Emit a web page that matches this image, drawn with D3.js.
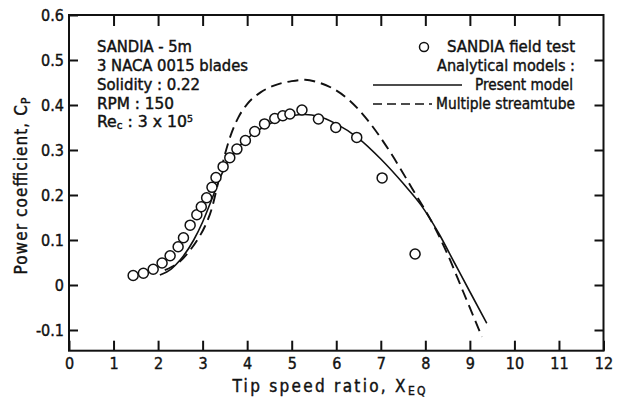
<!DOCTYPE html>
<html>
<head>
<meta charset="utf-8">
<script src="https://cdn.jsdelivr.net/npm/d3@7"></script>
<style>
  html, body { margin: 0; padding: 0; background: #fff; }
  svg { display: block; }
  text { font-family: "DejaVu Sans Condensed", "Liberation Sans Narrow", "DejaVu Sans", sans-serif; fill: #111; stroke: #111; stroke-width: 0.4px; }
</style>
</head>
<body>
<svg id="chart" width="619" height="400"></svg>
<script>
// ---------- data ----------
const fieldTestX = [1.44, 1.67, 1.89, 2.09, 2.27, 2.45, 2.57, 2.72, 2.87, 2.97, 3.09, 3.21, 3.30, 3.46, 3.61, 3.77, 3.96, 4.17, 4.39, 4.62, 4.80, 4.96, 5.23, 5.60, 5.99, 6.46, 7.03, 7.77];
const fieldTestY = [0.021, 0.026, 0.035, 0.049, 0.065, 0.085, 0.105, 0.133, 0.156, 0.174, 0.194, 0.217, 0.239, 0.263, 0.283, 0.302, 0.321, 0.341, 0.358, 0.370, 0.376, 0.380, 0.389, 0.369, 0.350, 0.328, 0.238, 0.069];

const presentX = [2.04, 2.3, 2.5, 2.8, 3.0, 3.2, 3.4, 3.6, 3.8, 4.0, 4.3, 4.6, 5.0, 5.3, 5.6, 6.0, 6.5, 7.0, 7.5, 7.9, 8.3, 8.65, 9.0, 9.38];
const presentY = [0.022, 0.036, 0.056, 0.100, 0.140, 0.189, 0.240, 0.280, 0.306, 0.325, 0.347, 0.363, 0.376, 0.379, 0.375, 0.358, 0.326, 0.280, 0.226, 0.178, 0.115, 0.050, -0.015, -0.085];

const streamX = [2.15, 2.3, 2.5, 2.7, 2.9, 3.05, 3.2, 3.35, 3.5, 3.65, 3.8, 4.0, 4.3, 4.6, 5.0, 5.3, 5.6, 5.9, 6.3, 6.7, 7.2, 7.7, 8.2, 8.5, 8.85, 9.27];
const streamY = [0.033, 0.040, 0.053, 0.075, 0.103, 0.130, 0.168, 0.228, 0.290, 0.338, 0.372, 0.402, 0.428, 0.443, 0.453, 0.456, 0.450, 0.438, 0.410, 0.367, 0.297, 0.215, 0.130, 0.068, -0.015, -0.115];

const xTickValues = [0, 1, 2, 3, 4, 5, 6, 7, 8, 9, 10, 11, 12];
const yTickValues = [-0.1, 0, 0.1, 0.2, 0.3, 0.4, 0.5, 0.6];
const yTickLabels = ["-0.1", "0", "0.1", "0.2", "0.3", "0.4", "0.5", "0.6"];

const infoLines = ["SANDIA - 5m", "3 NACA 0015 blades", "Solidity : 0.22", "RPM : 150"];

// ---------- layout ----------
const svg = d3.select("#chart");
const x = d3.scaleLinear().domain([0, 12]).range([69, 603.5]);
const y = d3.scaleLinear().domain([-0.146, 0.6]).range([350.7, 15]);

const ink = "#111";
const fam = '"DejaVu Sans Condensed", "Liberation Sans Narrow", sans-serif';

// axes
const gL = svg.append("g").attr("transform", `translate(${x(0)},0)`)
  .call(d3.axisLeft(y).tickValues(yTickValues).tickSize(-9).tickPadding(5)
        .tickFormat((d, i) => yTickLabels[i]));
const gB = svg.append("g").attr("transform", `translate(0,${y(-0.146)})`)
  .call(d3.axisBottom(x).tickValues(xTickValues).tickSize(-10).tickPadding(7)
        .tickFormat(d3.format("d")));
const gT = svg.append("g").attr("transform", `translate(0,${y(0.6)})`)
  .call(d3.axisTop(x).tickValues(xTickValues.slice(1, -1)).tickSize(-11).tickFormat(""));
const gR = svg.append("g").attr("transform", `translate(${x(12)},0)`)
  .call(d3.axisRight(y).tickValues(yTickValues.slice(0, -1)).tickSize(-9).tickFormat(""));

[gL, gB, gT, gR].forEach(g => {
  g.select(".domain").remove();
  g.selectAll(".tick line").attr("stroke", ink).attr("stroke-width", 2);
  g.selectAll(".tick text").attr("fill", ink).attr("font-size", 16)
    .attr("font-family", fam);
});

// frame
svg.append("rect")
  .attr("x", x(0)).attr("y", y(0.6))
  .attr("width", x(12) - x(0)).attr("height", y(-0.146) - y(0.6))
  .attr("fill", "none").attr("stroke", ink).attr("stroke-width", 2);

// curves
const line = (xs, ys) => d3.line()
  .x((d, i) => x(xs[i])).y((d, i) => y(ys[i]))
  .curve(d3.curveMonotoneX)(xs);

svg.append("path").attr("d", line(streamX, streamY))
  .attr("fill", "none").attr("stroke", ink).attr("stroke-width", 1.9)
  .attr("stroke-dasharray", "11,6");
svg.append("path").attr("d", line(presentX, presentY))
  .attr("fill", "none").attr("stroke", ink).attr("stroke-width", 1.6);

// field test circles
svg.append("g").selectAll("circle").data(fieldTestX).join("circle")
  .attr("cx", d => x(d)).attr("cy", (d, i) => y(fieldTestY[i]))
  .attr("r", 5).attr("fill", "#fff").attr("stroke", ink).attr("stroke-width", 1.5);

// info block
const info = svg.append("g").attr("font-size", 15);
const infoBase = [52, 71, 90, 109];
const infoLen = [95, 151, 103, 77];
infoLines.forEach((t, i) => {
  info.append("text").attr("x", 97).attr("y", infoBase[i]).text(t)
    .attr("textLength", infoLen[i]).attr("lengthAdjust", "spacingAndGlyphs");
});
const rec = info.append("text").attr("x", 97).attr("y", 127);
rec.append("tspan").text("Re");
rec.append("tspan").attr("font-size", 10).attr("dy", 2).text("c");
rec.append("tspan").attr("dy", -2).text(" : 3 x 10");
rec.append("tspan").attr("font-size", 9).attr("dy", -5).text("5");
rec.attr("textLength", 96).attr("lengthAdjust", "spacingAndGlyphs");

// legend
const leg = svg.append("g").attr("font-size", 16).attr("text-anchor", "end");
leg.append("circle").attr("cx", 424).attr("cy", 47).attr("r", 4.5)
  .attr("fill", "#fff").attr("stroke", ink).attr("stroke-width", 1.5);
leg.append("text").attr("x", 575).attr("y", 52).text("SANDIA field test")
  .attr("textLength", 128).attr("lengthAdjust", "spacingAndGlyphs");
leg.append("text").attr("x", 575).attr("y", 71).text("Analytical models :")
  .attr("textLength", 138).attr("lengthAdjust", "spacingAndGlyphs");
leg.append("line").attr("x1", 373).attr("x2", 462).attr("y1", 85).attr("y2", 85)
  .attr("stroke", ink).attr("stroke-width", 1.6);
leg.append("text").attr("x", 573).attr("y", 90).text("Present model")
  .attr("textLength", 98).attr("lengthAdjust", "spacingAndGlyphs");
leg.append("line").attr("x1", 373).attr("x2", 432).attr("y1", 104).attr("y2", 104)
  .attr("stroke", ink).attr("stroke-width", 1.6).attr("stroke-dasharray", "9,5");
leg.append("text").attr("x", 575).attr("y", 109).text("Multiple streamtube")
  .attr("textLength", 139).attr("lengthAdjust", "spacingAndGlyphs");

// axis titles
const xt = svg.append("text").attr("x", 329).attr("y", 392).attr("text-anchor", "middle")
  .attr("font-size", 17).attr("textLength", 193).attr("lengthAdjust", "spacing");
xt.append("tspan").text("Tip speed ratio, X");
xt.append("tspan").attr("font-size", 12).attr("dy", 3).text("EQ");

const yt = svg.append("text").attr("transform", "translate(27,186) rotate(-90)")
  .attr("text-anchor", "middle").attr("font-size", 17)
  .attr("textLength", 177).attr("lengthAdjust", "spacing");
yt.append("tspan").text("Power coefficient, C");
yt.append("tspan").attr("font-size", 12).attr("dy", 3).text("P");
</script>
</body>
</html>
